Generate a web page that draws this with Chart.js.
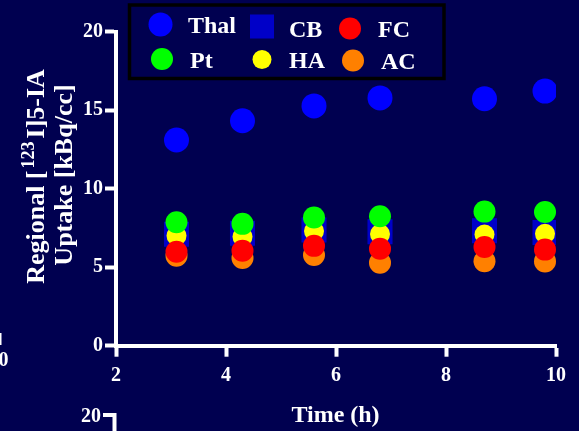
<!DOCTYPE html>
<html>
<head>
<meta charset="utf-8">
<script src="https://cdn.jsdelivr.net/npm/chart.js@4.4.0/dist/chart.umd.min.js"></script>
<style>
  body { margin: 0; background: #000050; }
</style>
</head>
<body>
<canvas id="canvas" width="579" height="431"></canvas>
<script>
// data
let times = [3.1, 4.3, 5.6, 6.8, 8.7, 9.8];
let thal = [13.1, 14.33, 15.27, 15.78, 15.73, 16.22];
let cb = [7.1, 7.16, 7.37, 7.26, 7.32, 7.21];
let fc = [5.99, 6.05, 6.36, 6.17, 6.29, 6.12];
let pt = [7.86, 7.76, 8.17, 8.24, 8.54, 8.52];
let ha = [7.0, 6.94, 7.3, 7.11, 7.08, 7.13];
let ac = [5.73, 5.59, 5.78, 5.28, 5.38, 5.37];
let xTicks = [2, 4, 6, 8, 10];
let yTicks = [0, 5, 10, 15, 20];

let serif = "'Liberation Serif', 'Times New Roman', serif";

function pts(vals) {
  return times.map((t, i) => ({ x: t, y: vals[i] }));
}

function series(label, vals, color, radius, order, style) {
  return {
    label: label,
    data: pts(vals),
    backgroundColor: color,
    borderWidth: 0,
    pointRadius: radius,
    pointHoverRadius: radius,
    pointStyle: style || "circle",
    order: order,
  };
}

let datasets = [
  series("Thal", thal, "#0000ff", 12.5, 0),
  series("CB", cb, "#0000c8", 17.7, 5, "rect"),
  series("FC", fc, "#ff0000", 11, 2),
  series("Pt", pt, "#00ff00", 11, 1),
  series("HA", ha, "#ffff00", 10, 4),
  series("AC", ac, "#ff8000", 11, 3),
];

// legend box layout: [dataset index, marker x, marker y, marker radius, text x, text baseline]
let legendSpots = [
  [0, 160.5, 24.5, 12, 188, 33],
  [1, 262, 26.5, 17, 289, 36.5],
  [2, 350, 28.5, 11, 378, 37],
  [3, 162, 59, 11, 190, 68],
  [4, 262, 59.5, 9.5, 289, 68],
  [5, 353, 60.5, 11, 381, 69],
];

let deco = {
  id: "deco",
  beforeDraw(chart) {
    let c = chart.ctx;
    c.save();
    c.fillStyle = "#000050";
    c.fillRect(0, 0, chart.width, chart.height);
    c.restore();
  },
  afterDraw(chart) {
    let c = chart.ctx;
    c.save();
    c.fillStyle = "#ffffff";
    c.strokeStyle = "#ffffff";

    // x title
    c.font = "bold 24px " + serif;
    c.textAlign = "center";
    c.textBaseline = "alphabetic";
    c.fillText("Time (h)", 335.5, 422);

    // y title line 1 with the superscript, centred on the plot
    c.save();
    c.translate(43.5, 176.5);
    c.rotate(-Math.PI / 2);
    c.textAlign = "left";
    let big = "bold 26px " + serif;
    let small = "bold 18px " + serif;
    c.font = big;
    let w1 = c.measureText("Regional [").width;
    let w3 = c.measureText("I]5-IA").width;
    c.font = small;
    let w2 = c.measureText("123").width;
    let total = w1 + w2 + w3 + 5;
    let x0 = -total / 2;
    c.font = big;
    c.fillText("Regional [", x0, 0);
    c.font = small;
    c.fillText("123", x0 + w1 + 2, -9.5);
    c.font = big;
    c.fillText("I]5-IA", x0 + w1 + w2 + 5, 0);
    c.restore();

    c.save();
    c.translate(72, 175);
    c.rotate(-Math.PI / 2);
    c.textAlign = "center";
    c.font = "bold 26px " + serif;
    c.fillText("Uptake [kBq/cc]", 0, 0);
    c.restore();

    // pieces of the neighbouring panels
    c.font = "bold 20px " + serif;
    c.textAlign = "right";
    c.fillText("20", 101, 422);
    c.textAlign = "center";
    c.fillText("10", -1.5, 366);
    c.lineWidth = 4;
    c.beginPath();
    c.moveTo(103, 415);
    c.lineTo(116, 415);
    c.moveTo(114.5, 413);
    c.lineTo(114.5, 431);
    c.stroke();
    c.lineWidth = 2;
    c.beginPath();
    c.moveTo(0.5, 333);
    c.lineTo(0.5, 345);
    c.stroke();

    // legend
    c.lineWidth = 3.5;
    c.strokeStyle = "#000000";
    c.strokeRect(129.5, 5, 314.5, 73.5);
    legendSpots.forEach((s) => {
      let ds = chart.data.datasets[s[0]];
      c.fillStyle = ds.backgroundColor;
      Chart.helpers.drawPoint(c, {
        pointStyle: ds.pointStyle,
        radius: s[3],
        rotation: 0,
        borderWidth: 0,
      }, s[1], s[2]);
      c.fillStyle = "#ffffff";
      c.font = "bold 24px " + serif;
      c.textAlign = "left";
      c.fillText(ds.label, s[4], s[5]);
    });
    c.restore();
  },
};

let tickFont = { family: serif, size: 20, weight: "bold" };

new Chart(document.getElementById("canvas"), {
  type: "scatter",
  data: { datasets: datasets },
  options: {
    responsive: false,
    animation: false,
    layout: { padding: { left: 0, top: 31.7, right: 23, bottom: 0 } },
    plugins: { legend: { display: false }, tooltip: { enabled: false } },
    scales: {
      x: {
        type: "linear",
        min: 2,
        max: 10,
        afterBuildTicks: (s) => { s.ticks = xTicks.map((v) => ({ value: v })); },
        afterFit: (s) => { s.height = 85.3; },
        ticks: { color: "#ffffff", font: tickFont, padding: 7 },
        grid: {
          drawOnChartArea: false,
          drawTicks: true,
          tickLength: 11,
          tickWidth: 4,
          tickColor: "#ffffff",
          color: "#ffffff",
        },
        border: { color: "#ffffff", width: 4 },
      },
      y: {
        min: 0,
        max: 20,
        afterBuildTicks: (s) => { s.ticks = yTicks.map((v) => ({ value: v })); },
        afterFit: (s) => { s.width = 116; },
        ticks: { color: "#ffffff", font: tickFont, padding: 2 },
        grid: {
          drawOnChartArea: false,
          drawTicks: true,
          tickLength: 11,
          tickWidth: 4,
          tickColor: "#ffffff",
          color: "#ffffff",
        },
        border: { color: "#ffffff", width: 4 },
      },
    },
  },
  plugins: [deco],
});
</script>
</body>
</html>
